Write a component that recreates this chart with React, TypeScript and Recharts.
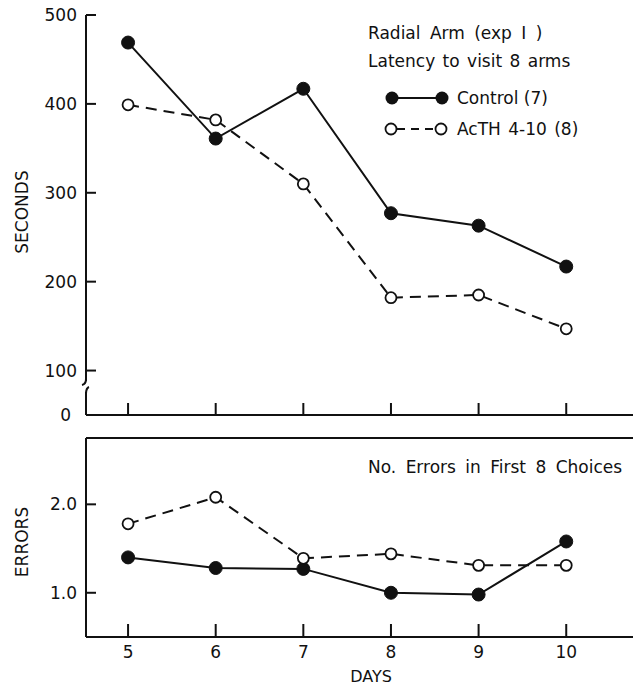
import React from 'react';
import { LineChart, Line, XAxis, YAxis, ReferenceLine } from 'recharts';

// values
const days = [5, 6, 7, 8, 9, 10];
const controlLatency = [469, 361, 417, 277, 263, 217];
const acthLatency = [399, 382, 310, 182, 185, 147];
const controlErrors = [1.4, 1.28, 1.27, 1.0, 0.98, 1.58];
const acthErrors = [1.78, 2.08, 1.39, 1.44, 1.31, 1.31];

// the latency axis is broken below 100: the "0" tick sits at 50 on the scale
const latencyTicks = [50, 100, 200, 300, 400, 500];
const latencyTickLabels = ['0', '100', '200', '300', '400', '500'];
const errorTicks = [1, 2];
const errorTickLabels = ['1.0', '2.0'];

const INK = '#111';
const FONT = 'DejaVu Sans';

const latencyData = days.map((d, i) => ({ day: d, control: controlLatency[i], acth: acthLatency[i] }));
const errorData = days.map((d, i) => ({ day: d, control: controlErrors[i], acth: acthErrors[i] }));

const filledDot = { r: 6.5, fill: INK, stroke: INK, strokeWidth: 1, strokeDasharray: 'none' };
const openDot = { r: 5.5, fill: '#fff', stroke: INK, strokeWidth: 1.8, strokeDasharray: 'none' };

const makeXTick = (labelled: boolean, len: number) => (props: any) => {
  const { x, y, payload } = props;
  return (
    <g>
      <line x1={x} x2={x} y1={y} y2={y - len} stroke={INK} strokeWidth={2} />
      {labelled && (
        <text x={x} y={y + 21} textAnchor="middle" fontSize={17} fontFamily={FONT} fill={INK}>
          {payload.value}
        </text>
      )}
    </g>
  );
};

const makeYTick = (ticks: number[], labels: string[]) => (props: any) => {
  const { x, y, payload } = props;
  const label = labels[ticks.indexOf(payload.value)];
  if (label === '0') {
    // axis break marks
    return (
      <g>
        <rect x={x - 4} y={y - 34} width={8} height={11} fill="#fff" />
        <path d={`M${x},${y - 36} Q${x},${y - 31} ${x - 4},${y - 30}`} stroke={INK} strokeWidth={2} fill="none" />
        <path d={`M${x + 3},${y - 28} Q${x},${y - 27} ${x},${y - 21}`} stroke={INK} strokeWidth={2} fill="none" />
        <text x={x - 15} y={y + 6} textAnchor="end" fontSize={17} fontFamily={FONT} fill={INK}>
          {label}
        </text>
      </g>
    );
  }
  return (
    <g>
      <line x1={x} x2={x + 10} y1={y} y2={y} stroke={INK} strokeWidth={2} />
      <text x={x - 9} y={y + 6} textAnchor="end" fontSize={17} fontFamily={FONT} fill={INK}>
        {label}
      </text>
    </g>
  );
};

const App: React.FC = () => {
  return (
    <div
      style={{
        position: 'fixed',
        left: 0,
        top: 0,
        width: 633,
        height: 687,
        overflow: 'hidden',
        background: '#fff',
        fontFamily: FONT,
      }}
    >
      <div style={{ position: 'absolute', left: 0, top: 0 }}>
        <LineChart width={700} height={430} data={latencyData} margin={{ top: 15, right: 40, bottom: 10, left: 0 }}>
          <XAxis
            dataKey="day"
            type="number"
            domain={[4.52, 11.07]}
            ticks={days}
            interval={0}
            height={5}
            tickSize={0}
            tickMargin={0}
            tickLine={false}
            axisLine={{ stroke: INK, strokeWidth: 2 }}
            tick={makeXTick(false, 12)}
            allowDataOverflow
          />
          <YAxis
            type="number"
            domain={[50, 500]}
            ticks={latencyTicks}
            interval={0}
            width={86}
            tickSize={0}
            tickMargin={0}
            tickLine={false}
            axisLine={{ stroke: INK, strokeWidth: 2 }}
            tick={makeYTick(latencyTicks, latencyTickLabels)}
          />
          <Line
            dataKey="control"
            stroke={INK}
            strokeWidth={2}
            dot={filledDot}
            activeDot={false}
            isAnimationActive={false}
          />
          <Line
            dataKey="acth"
            stroke={INK}
            strokeWidth={2}
            strokeDasharray="11 7"
            dot={openDot}
            activeDot={false}
            isAnimationActive={false}
          />
        </LineChart>
      </div>

      <div style={{ position: 'absolute', left: 0, top: 420 }}>
        <LineChart width={700} height={267} data={errorData} margin={{ top: 18, right: 40, bottom: 0, left: 0 }}>
          <XAxis
            dataKey="day"
            type="number"
            domain={[4.52, 11.07]}
            ticks={days}
            interval={0}
            height={50}
            tickSize={0}
            tickMargin={0}
            tickLine={false}
            axisLine={{ stroke: INK, strokeWidth: 2 }}
            tick={makeXTick(true, 13)}
            allowDataOverflow
          />
          <YAxis
            type="number"
            domain={[0.5, 2.75]}
            ticks={errorTicks}
            interval={0}
            width={86}
            tickSize={0}
            tickMargin={0}
            tickLine={false}
            axisLine={{ stroke: INK, strokeWidth: 2 }}
            tick={makeYTick(errorTicks, errorTickLabels)}
            allowDataOverflow
          />
          <ReferenceLine y={2.75} stroke={INK} strokeWidth={2} />
          <Line
            dataKey="control"
            stroke={INK}
            strokeWidth={2}
            dot={filledDot}
            activeDot={false}
            isAnimationActive={false}
          />
          <Line
            dataKey="acth"
            stroke={INK}
            strokeWidth={2}
            strokeDasharray="11 7"
            dot={openDot}
            activeDot={false}
            isAnimationActive={false}
          />
        </LineChart>
      </div>

      <svg
        width={633}
        height={687}
        style={{ position: 'absolute', left: 0, top: 0, pointerEvents: 'none' }}
        fontFamily={FONT}
        fill={INK}
      >
        <text x={368} y={39} fontSize={17} wordSpacing={4}>Radial Arm (exp I )</text>
        <text x={368} y={67} fontSize={17} wordSpacing={2}>Latency to visit 8 arms</text>

        <line x1={392} x2={442} y1={98} y2={98} stroke={INK} strokeWidth={2} />
        <circle cx={392} cy={98} r={6.5} fill={INK} />
        <circle cx={442} cy={98} r={6.5} fill={INK} />
        <text x={457} y={104} fontSize={17}>Control (7)</text>

        <line x1={397} x2={436} y1={129} y2={129} stroke={INK} strokeWidth={2} strokeDasharray="8 6" />
        <circle cx={391} cy={129} r={5.5} fill="#fff" stroke={INK} strokeWidth={1.8} />
        <circle cx={441} cy={129} r={5.5} fill="#fff" stroke={INK} strokeWidth={1.8} />
        <text x={457} y={135} fontSize={17} wordSpacing={2}>AcTH 4-10 (8)</text>

        <text x={368} y={473} fontSize={17} wordSpacing={4}>No. Errors in First 8 Choices</text>

        <text x={28} y={212} fontSize={17} textAnchor="middle" transform="rotate(-90 28 212)">SECONDS</text>
        <text x={28} y={542} fontSize={17} textAnchor="middle" transform="rotate(-90 28 542)">ERRORS</text>
        <text x={371} y={682} fontSize={16} textAnchor="middle">DAYS</text>
      </svg>
    </div>
  );
};

export default App;
